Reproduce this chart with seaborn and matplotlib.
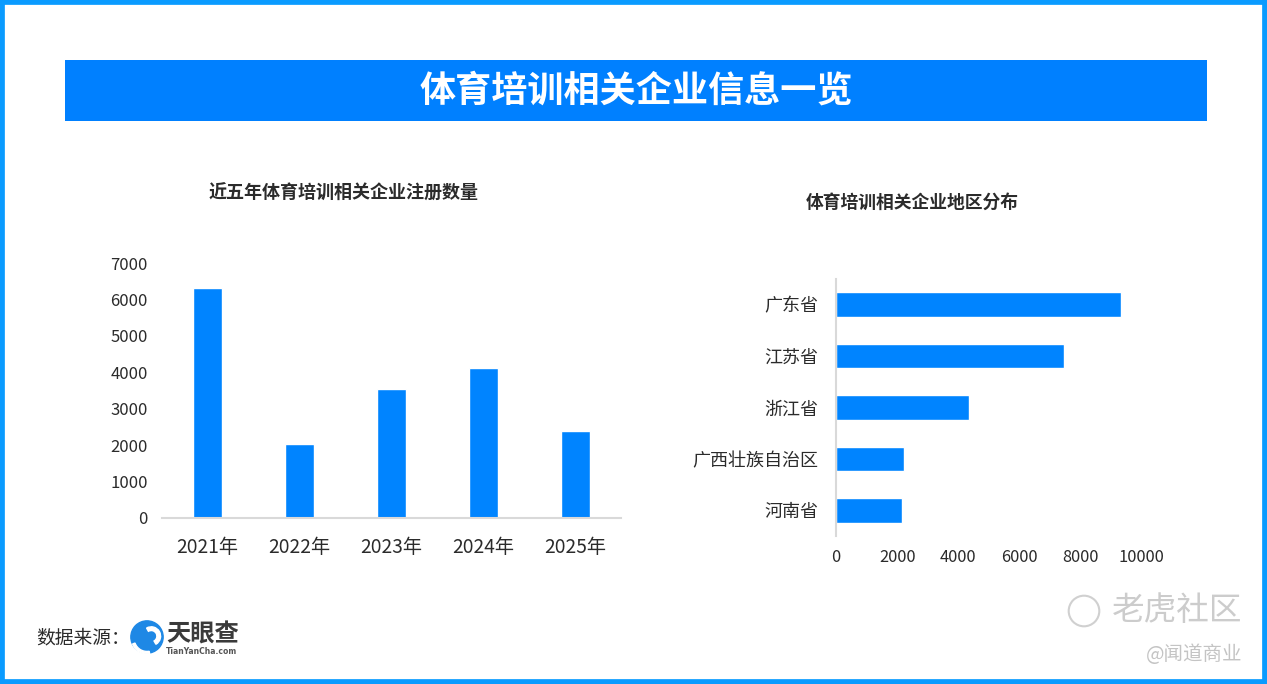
import matplotlib
matplotlib.use("Agg")
import matplotlib.pyplot as plt
import seaborn as sns
import pandas as pd
from matplotlib.patches import Rectangle, Circle, Wedge

# ---- data ----
years = ["2021年", "2022年", "2023年", "2024年", "2025年"]
registrations = [6310, 2030, 3540, 4120, 2390]
year_ticks = [0, 1000, 2000, 3000, 4000, 5000, 6000, 7000]

regions = ["广东省", "江苏省", "浙江省", "广西壮族自治区", "河南省"]
region_counts = [9340, 7450, 4340, 2230, 2160]
region_ticks = [0, 2000, 4000, 6000, 8000, 10000]

main_title = "体育培训相关企业信息一览"
left_title = "近五年体育培训相关企业注册数量"
right_title = "体育培训相关企业地区分布"

sns.set_theme(style="white")
plt.rcParams["font.family"] = ["Noto Sans CJK SC", "DejaVu Sans"]

W, H = 1267, 684
fig = plt.figure(figsize=(W / 100, H / 100), dpi=100)
fig.patch.set_facecolor("white")

BAR = "#0084FF"
TXT = "#2b2b2b"

def fx(px):
    return px / W

def fy(py):
    return 1 - py / H

# border
fig.patches.append(Rectangle((0, 0), 1, 1, transform=fig.transFigure, fill=False,
                             edgecolor="#0A9BFF", linewidth=7, zorder=0))
# banner
fig.patches.append(Rectangle((fx(65), fy(121)), fx(1207) - fx(65), fy(60) - fy(121),
                             transform=fig.transFigure, facecolor="#0080FF",
                             edgecolor="none", zorder=1))
fig.text(fx(636), fy(91), main_title, ha="center", va="center", color="white",
         fontsize=26, fontweight="bold")

# ---- left chart ----
df1 = pd.DataFrame({"year": years, "count": registrations})
ax1 = fig.add_axes([fx(161.5), fy(518), fx(621) - fx(161.5), fy(263) - fy(518)])
sns.barplot(data=df1, x="year", y="count", color=BAR, width=0.315, saturation=1,
            ax=ax1)
ax1.set_xlim(-0.5, 4.5)
ax1.set_ylim(0, 7000)
ax1.set_yticks(year_ticks)
ax1.set_xlabel("")
ax1.set_ylabel("")
for s in ["top", "right", "left"]:
    ax1.spines[s].set_visible(False)
ax1.spines["bottom"].set_color("#d9d9d9")
ax1.spines["bottom"].set_linewidth(1.5)
ax1.tick_params(axis="x", length=0, pad=14, labelsize=13.8, labelcolor=TXT)
ax1.tick_params(axis="y", length=0, pad=10, labelsize=12, labelcolor=TXT)
ax1.set_facecolor("none")
fig.text(fx(344), fy(193), left_title, ha="center", va="center", color=TXT,
         fontsize=13, fontweight="bold")

# ---- right chart ----
df2 = pd.DataFrame({"region": regions, "count": region_counts})
ax2 = fig.add_axes([fx(836), fy(536), fx(1141.5) - fx(836), fy(279) - fy(536)])
sns.barplot(data=df2, y="region", x="count", color=BAR, width=0.48, saturation=1,
            orient="h", ax=ax2)
ax2.set_xlim(0, 10000)
ax2.set_ylim(4.5, -0.5)
ax2.set_xticks(region_ticks)
ax2.set_xlabel("")
ax2.set_ylabel("")
for s in ["top", "right", "bottom"]:
    ax2.spines[s].set_visible(False)
ax2.spines["left"].set_color("#d9d9d9")
ax2.spines["left"].set_linewidth(1.5)
ax2.tick_params(axis="y", length=0, pad=13, labelsize=13, labelcolor=TXT)
ax2.tick_params(axis="x", length=0, pad=9, labelsize=11.8, labelcolor=TXT)
ax2.set_facecolor("none")
fig.text(fx(912), fy(203), right_title, ha="center", va="center", color=TXT,
         fontsize=12.8, fontweight="bold")

# ---- footer ----
fig.text(fx(36), fy(638), "数据来源：", ha="left", va="center", color=TXT, fontsize=13.5)
# logo icon
logo_ax = fig.add_axes([fx(130), fy(654), fx(164) - fx(130), fy(620) - fy(654)])
logo_ax.set_xlim(-1, 1)
logo_ax.set_ylim(-1, 1)
logo_ax.set_aspect("equal")
logo_ax.axis("off")
logo_ax.add_patch(Circle((0, 0), 0.95, color="#1E88E5"))
logo_ax.add_patch(Wedge((0.25, 0.05), 0.55, 300, 120, width=0.22, color="white"))
logo_ax.add_patch(Wedge((0.0, -0.1), 0.9, 200, 280, width=0.15, color="white"))
fig.text(fx(166), fy(635), "天眼查", ha="left", va="center", color="#3a3a3a",
         fontsize=17.5, fontweight="bold")
fig.text(fx(166), fy(651), "TianYanCha.com", ha="left", va="center", color="#555555",
         fontsize=5.5, fontweight="bold", family=["DejaVu Sans"])

# watermark
wm = fig.add_axes([fx(1066), fy(628), fx(1102) - fx(1066), fy(594) - fy(628)])
wm.set_xlim(-1, 1)
wm.set_ylim(-1, 1)
wm.set_aspect("equal")
wm.axis("off")
wm.add_patch(Circle((0, 0), 0.9, fill=False, edgecolor="#d0d0d0", linewidth=1.5))
fig.text(fx(1242), fy(611), "老虎社区", ha="right", va="center", color="#cccccc",
         fontsize=23.5)
fig.text(fx(1242), fy(655), "@闻道商业", ha="right", va="center", color="#c4c4c4",
         fontsize=14)

fig.savefig("out.png", dpi=100, facecolor="white")
